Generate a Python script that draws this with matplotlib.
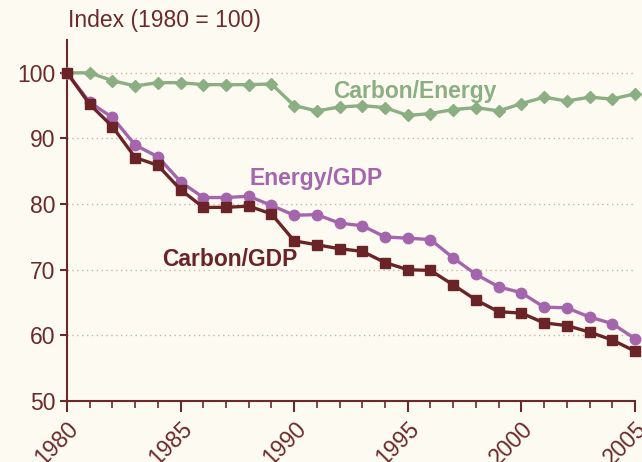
import matplotlib
matplotlib.use("Agg")
from matplotlib import pyplot as plt
import numpy as np

plt.rcParams['font.family'] = ['Liberation Sans', 'DejaVu Sans']

years = np.arange(1980, 2006)
carbon_energy = [100, 100, 98.8, 98.0, 98.5, 98.5, 98.2, 98.2, 98.2, 98.3,
                 95.0, 94.2, 94.8, 95.0, 94.7, 93.5, 93.8, 94.4, 94.7, 94.2,
                 95.3, 96.3, 95.7, 96.3, 96.0, 96.8]
energy_gdp = [100, 95.5, 93.2, 89.0, 87.2, 83.4, 81.0, 81.0, 81.2, 79.8,
              78.3, 78.4, 77.1, 76.7, 75.0, 74.8, 74.6, 71.8, 69.3, 67.4,
              66.5, 64.3, 64.2, 62.8, 61.8, 59.5]
carbon_gdp = [100, 95.2, 91.8, 87.1, 85.9, 82.2, 79.5, 79.5, 79.7, 78.5,
              74.4, 73.8, 73.2, 72.8, 71.1, 70.0, 69.9, 67.7, 65.4, 63.6,
              63.4, 61.9, 61.5, 60.5, 59.3, 57.6]
yticks = [50, 60, 70, 80, 90, 100]
xticks = [1980, 1985, 1990, 1995, 2000, 2005]

bg = '#FDFBF1'
axc = '#6B2A2A'
green = '#8BAE82'
purple = '#A465AD'
maroon = '#6A2428'

fig = plt.figure(figsize=(6.42, 4.62), dpi=100, facecolor=bg)
ax = fig.add_axes([0.1044, 0.132, 0.8846, 0.7814], facecolor=bg)

for y in yticks[1:]:
    ax.axhline(y, color='#CDB0A8', lw=1, ls=(0, (1, 2.5)), zorder=1)

ax.plot(years, carbon_energy, color=green, lw=2.4, marker='D', ms=6.5, clip_on=False, zorder=3)
ax.plot(years, energy_gdp, color=purple, lw=2.4, marker='o', ms=7.5, clip_on=False, zorder=4)
ax.plot(years, carbon_gdp, color=maroon, lw=2.4, marker='s', ms=6.5, clip_on=False, zorder=5)

fs = 16.5
ax.text(1991.7, 97.2, 'Carbon/Energy', color=green, fontsize=fs, fontweight='bold', va='center')
ax.text(1988.05, 83.9, 'Energy/GDP', color=purple, fontsize=fs, fontweight='bold', va='center')
ax.text(1984.2, 71.5, 'Carbon/GDP', color=maroon, fontsize=fs, fontweight='bold', va='center')

ax.set_xlim(1980, 2005)
ax.set_ylim(50, 105)
ax.set_yticks(yticks)
ax.set_xticks(xticks)
ax.set_xticks(years, minor=True)
ax.set_xticklabels([str(x) for x in xticks], rotation=45, ha='right', rotation_mode='anchor')

for s in ['top', 'right']:
    ax.spines[s].set_visible(False)
for s in ['left', 'bottom']:
    ax.spines[s].set_color(axc)
    ax.spines[s].set_linewidth(1.5)
ax.tick_params(axis='both', colors=axc, labelcolor=axc, labelsize=fs, width=1.5)
ax.tick_params(axis='x', which='major', length=8, pad=4)
ax.tick_params(axis='x', which='minor', length=5, width=1.2, colors=axc)
ax.tick_params(axis='y', length=5)

fig.text(0.106, 0.955, 'Index (1980 = 100)', color=axc, fontsize=fs, va='center', ha='left')

plt.savefig('out.png', dpi=100, facecolor=bg)
